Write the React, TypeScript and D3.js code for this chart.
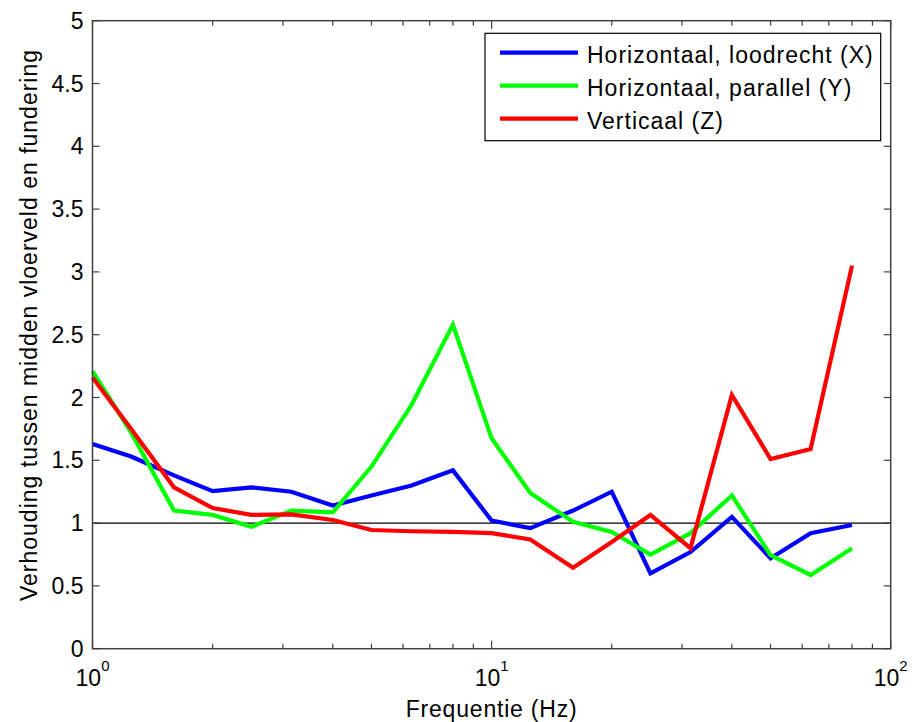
import React from "react";
import * as d3 from "d3";

const freqs = [1, 1.25, 1.6, 2, 2.5, 3.15, 4, 5, 6.3, 8, 10, 12.5, 16, 20, 25, 31.5, 40, 50, 63, 80];

const seriesX = [1.63, 1.53, 1.38, 1.255, 1.285, 1.25, 1.14, 1.22, 1.3, 1.42, 1.02, 0.96, 1.1, 1.25, 0.6, 0.77, 1.05, 0.72, 0.92, 0.985];
const seriesY = [2.21, 1.72, 1.1, 1.065, 0.97, 1.1, 1.085, 1.45, 1.94, 2.58, 1.675, 1.24, 1.01, 0.93, 0.75, 0.92, 1.22, 0.745, 0.587, 0.8];
const seriesZ = [2.16, 1.75, 1.285, 1.12, 1.065, 1.07, 1.025, 0.945, 0.935, 0.93, 0.92, 0.87, 0.645, 0.85, 1.065, 0.8, 2.02, 1.51, 1.59, 3.05];

const seriesNames = ["Horizontaal, loodrecht (X)", "Horizontaal, parallel (Y)", "Verticaal (Z)"];
const seriesColors = ["#0000ff", "#00ff00", "#ff0000"];

const yTicks = [0, 0.5, 1, 1.5, 2, 2.5, 3, 3.5, 4, 4.5, 5];
const yTickLabels = ["0", "0.5", "1", "1.5", "2", "2.5", "3", "3.5", "4", "4.5", "5"];
const xMajor = [1, 10, 100];
const xMajorExp = ["0", "1", "2"];

const W = 915;
const H = 722;
const left = 92.5;
const right = 890.7;
const top = 20.7;
const bottom = 648.7;
const font = "'Liberation Sans', Arial, sans-serif";
const axisColor = "#404040";
const fs = 23;

export default function App() {
  const x = d3.scaleLog().domain([1, 100]).range([left, right]);
  const y = d3.scaleLinear().domain([0, 5]).range([bottom, top]);

  const line = d3
    .line<number>()
    .x((_, i) => x(freqs[i]))
    .y((d) => y(d));

  const allSeries = [seriesX, seriesY, seriesZ];

  // minor ticks of the log axis (2..9 per decade)
  const minor: number[] = [];
  [1, 10].forEach((dec) => {
    for (let k = 2; k <= 9; k++) minor.push(dec * k);
  });

  return (
    <svg
      width={W}
      height={H}
      style={{ position: "absolute", left: 0, top: 0, background: "#fff" }}
      fontFamily={font}
    >
      <rect x={0} y={0} width={W} height={H} fill="#fff" />

      {/* reference line at 1 */}
      <line x1={left} x2={right} y1={y(1)} y2={y(1)} stroke="#000" strokeWidth={1.3} />

      {/* data lines */}
      <g>
        {allSeries.map((s, i) => (
          <path
            key={i}
            d={line(s) || ""}
            fill="none"
            stroke={seriesColors[i]}
            strokeWidth={4.2}
            strokeLinejoin="miter"
          />
        ))}
      </g>

      {/* axis box */}
      <rect
        x={left}
        y={top}
        width={right - left}
        height={bottom - top}
        fill="none"
        stroke={axisColor}
        strokeWidth={1.5}
      />

      {/* y ticks */}
      {yTicks.map((t, i) => (
        <g key={i}>
          <line x1={left} x2={left + 7} y1={y(t)} y2={y(t)} stroke={axisColor} strokeWidth={1.2} />
          <line x1={right} x2={right - 7} y1={y(t)} y2={y(t)} stroke={axisColor} strokeWidth={1.2} />
          <text x={left - 9} y={y(t) + 8} textAnchor="end" fontSize={fs} fill="#000">
            {yTickLabels[i]}
          </text>
        </g>
      ))}

      {/* x ticks */}
      {xMajor.map((t, i) => (
        <g key={i}>
          <line x1={x(t)} x2={x(t)} y1={bottom} y2={bottom - 8} stroke={axisColor} strokeWidth={1.2} />
          <line x1={x(t)} x2={x(t)} y1={top} y2={top + 8} stroke={axisColor} strokeWidth={1.2} />
          <text x={x(t)} y={686} textAnchor="middle" fontSize={fs} fill="#000">
            10
            <tspan dy={-15} fontSize={15}>
              {xMajorExp[i]}
            </tspan>
          </text>
        </g>
      ))}
      {minor.map((t, i) => (
        <g key={"m" + i}>
          <line x1={x(t)} x2={x(t)} y1={bottom} y2={bottom - 5} stroke={axisColor} strokeWidth={1.2} />
          <line x1={x(t)} x2={x(t)} y1={top} y2={top + 5} stroke={axisColor} strokeWidth={1.2} />
        </g>
      ))}

      {/* axis labels */}
      <text
        x={(left + right) / 2}
        y={717}
        textAnchor="middle"
        fontSize={fs}
        letterSpacing={0.8}
        fill="#000"
      >
        Frequentie (Hz)
      </text>
      <text
        transform={`translate(37, 325) rotate(-90)`}
        textAnchor="middle"
        fontSize={fs}
        letterSpacing={1}
        fill="#000"
      >
        Verhouding tussen midden vloerveld en fundering
      </text>

      {/* legend */}
      <rect x={485} y={33.3} width={395.7} height={107.4} fill="#fff" stroke="#000" strokeWidth={1.2} />
      {seriesNames.map((name, i) => {
        const ly = 52.7 + i * 33;
        return (
          <g key={i}>
            <line x1={500} x2={578} y1={ly} y2={ly} stroke={seriesColors[i]} strokeWidth={4.2} />
            <text x={587} y={ly + 10} fontSize={fs} letterSpacing={1} fill="#000">
              {name}
            </text>
          </g>
        );
      })}
    </svg>
  );
}
